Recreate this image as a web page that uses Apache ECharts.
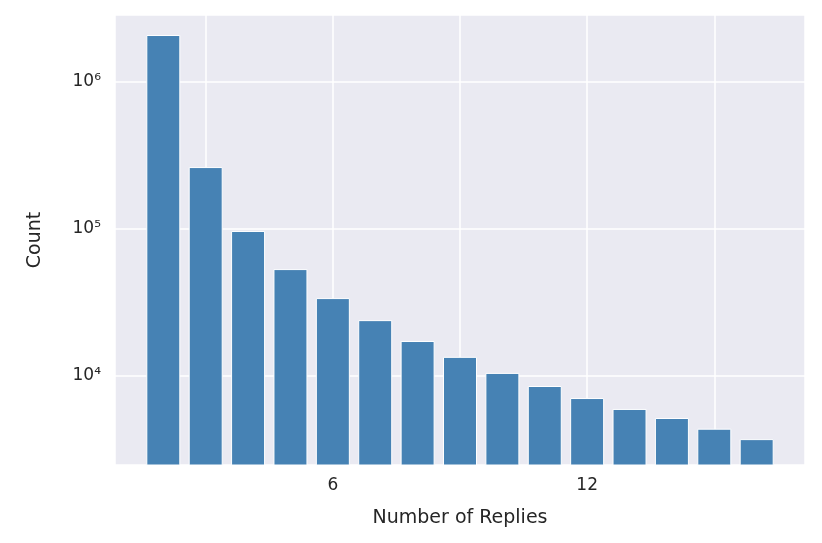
<!DOCTYPE html>
<html><head><meta charset="utf-8">
<script src="https://cdn.jsdelivr.net/npm/echarts@6/dist/echarts.min.js"></script>
<style>html,body{margin:0;padding:0;background:#fff}#c{width:822px;height:543px}</style>
</head><body><div id="c"></div>
<script>
const replies = [2,3,4,5,6,7,8,9,10,11,12,13,14,15,16];
const counts = [2090000,264000,97000,53400,33900,24000,17300,13500,10500,8550,7080,5970,5180,4380,3720];
const xTicks = [2,4,6,8,10,12,14,16];
const sup = {4:'⁴',5:'⁵',6:'⁶'};
const chart = echarts.init(document.getElementById('c'));
const txt = '#262626', font = 'DejaVu Sans';
chart.setOption({
  backgroundColor:'#fff',
  animation:false,
  grid:{left:115,right:17,top:15,bottom:78,show:true,backgroundColor:'#EAEAF2',borderWidth:0},
  xAxis:{type:'value',min:0.86,max:17.14,
    name:'Number of Replies',nameLocation:'middle',nameGap:44,
    nameTextStyle:{color:txt,fontFamily:font,fontSize:19},
    axisLine:{show:false},axisTick:{show:false},
    axisLabel:{color:txt,fontFamily:font,fontSize:17,margin:12,
      formatter:v=>xTicks.includes(Math.round(v*1000)/1000)?String(v):''},
    splitLine:{show:true,lineStyle:{color:'#fff',width:1.5}}},
  yAxis:{type:'log',logBase:10,min:2480,max:2860000,
    name:'Count',nameLocation:'middle',nameGap:70,
    nameTextStyle:{color:txt,fontFamily:font,fontSize:19},
    axisLine:{show:false},axisTick:{show:false},
    axisLabel:{color:txt,fontFamily:font,fontSize:17,margin:14,
      formatter:v=>{const l=Math.log10(v);const r=Math.round(l);return Math.abs(l-r)<1e-6&&sup[r]?'10'+sup[r]:'';}},
    splitLine:{show:true,lineStyle:{color:'#fff',width:1.5}}},
  series:[{type:'bar',barWidth:34,
    data:replies.map((r,i)=>[r,counts[i]]),
    itemStyle:{color:'#4682B4',borderColor:'#fff',borderWidth:1}}]
});
</script></body></html>
